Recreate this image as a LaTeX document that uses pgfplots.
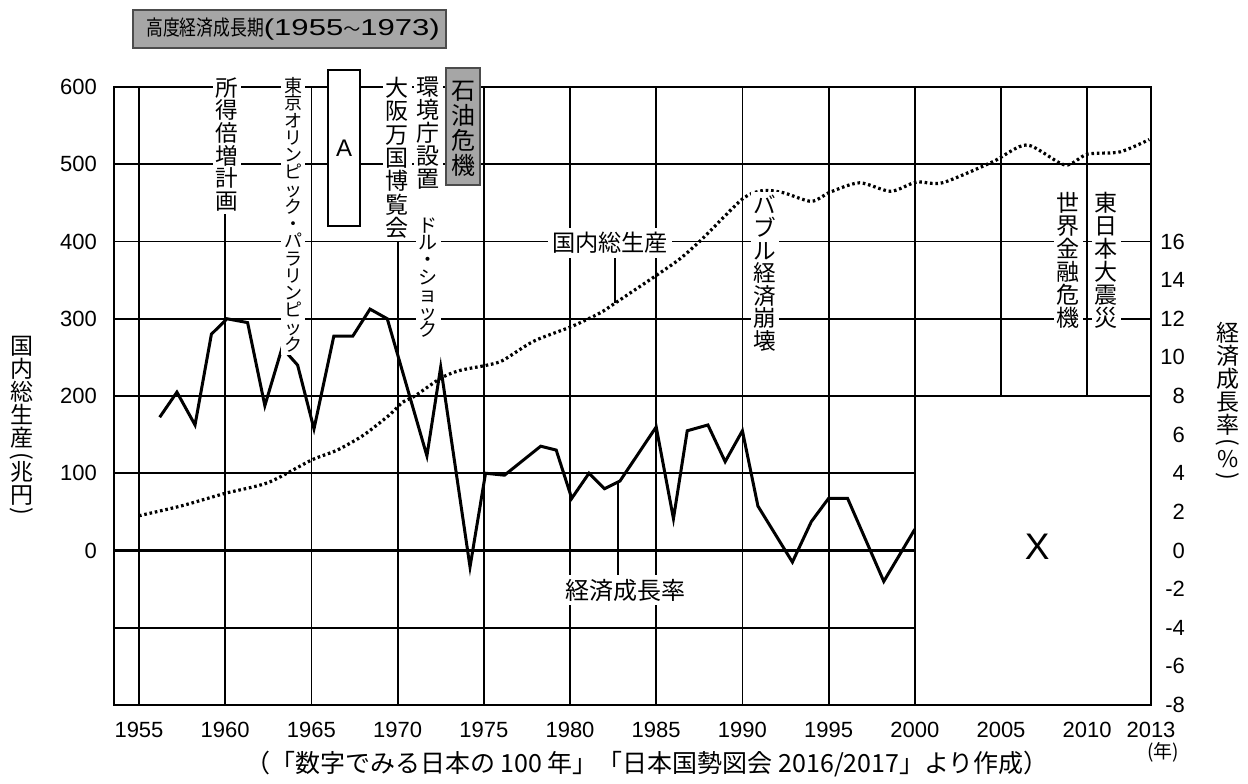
\documentclass[border=0pt]{standalone}
\usepackage{fontspec}
\setmainfont{Liberation Sans}
\newfontfamily\cjk{Noto Sans CJK JP}
\usepackage{graphicx}
\usepackage{pgfplots}
\usepackage{pgfplotstable}
\pgfplotsset{compat=1.18}

\pgfplotstableread{
x y
1955.0 45
1957.5 58
1960.0 74
1962.5 88
1965.0 117
1966.5 130
1968.0 149
1969.5 175
1970.3 192
1971.0 200
1972.5 223
1973.6 233
1975.2 240
1976.1 246
1977.9 271
1980.1 290
1981.7 307
1982.6 320
1985.0 356
1986.4 378
1987.7 404
1990.0 455
1991.2 466
1992.4 463
1994.0 452
1995.1 464
1996.8 476
1998.6 465
2000.1 477
2001.6 476
2004.5 503
2006.5 525
2008.7 499
2010.0 513
2011.9 516
2013.6 532
}\gdptable

\pgfplotstableread{
x y
1956.2 6.9
1957.2 8.2
1958.25 6.5
1959.2 11.2
1960.1 12.0
1961.3 11.8
1962.3 7.5
1963.3 10.5
1964.2 9.6
1965.15 6.3
1966.3 11.1
1967.4 11.1
1968.4 12.5
1969.4 12.0
1971.7 4.9
1972.5 9.5
1974.2 -0.85
1975.1 4.0
1976.2 3.9
1978.3 5.4
1979.2 5.2
1980.1 2.7
1981.1 4.0
1982.0 3.2
1982.9 3.6
1985.0 6.4
1986.0 1.65
1986.8 6.2
1988.0 6.5
1989.0 4.6
1990.0 6.2
1990.9 2.3
1992.9 -0.6
1994.0 1.5
1995.0 2.7
1996.1 2.7
1998.2 -1.6
2000.0 1.1
}\growthtable

\newcommand{\vparL}{\rotatebox[origin=c]{-90}{(}}
\newcommand{\vparR}{\rotatebox[origin=c]{-90}{)}}

\begin{document}
\begin{tikzpicture}
\path[use as bounding box] (0,0) rectangle (624pt,391.5pt);

\begin{axis}[
  at={(57pt,39pt)}, anchor=south west, scale only axis,
  width=518.5pt, height=309pt,
  xmin=1953.55, xmax=2013.7, ymin=-200, ymax=600,
  xtick={1955,1960,1965,1970,1975,1980,1985,1990,1995,2000,2005,2010},
  xticklabels={1955,1960,1965,1970,1975,1980,1985,1990,1995,2000,2005,2010},
  extra x ticks={2013.7}, extra x tick labels={2013},
  extra x tick style={grid=none},
  ytick={-100,0,100,200,300,400,500,600},
  yticklabels={,0,100,200,300,400,500,600},
  grid=major, major grid style={line width=0.9pt, black},
  major tick length=0pt,
  axis line style={line width=1.1pt},
  tick label style={font=\fontsize{11}{13}\selectfont},
  xticklabel style={yshift=-5pt},
  yticklabel style={xshift=-5pt},
]
\addplot[line width=1.6pt, dash pattern=on 1.3pt off 1.4pt, line cap=butt, smooth, tension=0.45] table[x=x,y=y]{\gdptable};
\draw[line width=1.7pt] (axis cs:1953.55,0) -- (axis cs:2013.7,0);
\end{axis}

\begin{axis}[
  at={(57pt,39pt)}, anchor=south west, scale only axis,
  width=518.5pt, height=309pt,
  xmin=1953.55, xmax=2013.7, ymin=-8, ymax=24,
  axis x line=none, axis y line*=right,
  ytick={-8,-6,-4,-2,0,2,4,6,8,10,12,14,16},
  yticklabels={-8,-6,-4,-2,0,2,4,6,8,10,12,14,16},
  major tick length=0pt,
  axis line style={line width=1.1pt},
  tick label style={font=\fontsize{11}{13}\selectfont},
  yticklabel style={anchor=west, text width=13pt, align=right, inner sep=0pt, xshift=3.75pt},
  clip=false,
]
\addplot[line width=1.5pt] table[x=x,y=y]{\growthtable};
\draw[line width=1.3pt, fill=white] (axis cs:2000,-8) rectangle (axis cs:2013.7,8);
\node[font=\fontsize{18.5}{20}\selectfont] at (axis cs:2007.1,0.2) {X};
\end{axis}

\begin{scope}[x=0.5pt,y=-0.5pt,shift={(0pt,391.5pt)}]
% top period box
\draw[fill=black!35, draw=black!70, line width=0.6pt] (133,10) rectangle (446,48);
\node[inner sep=0pt] at (293,29) {\scalebox{0.8}[1]{\cjk\fontsize{10.5}{12}\selectfont 高度経済成長期}\scalebox{1.35}[1]{\fontsize{11.5}{13}\selectfont (1955}{\cjk\fontsize{8.5}{10}\selectfont ～}\scalebox{1.35}[1]{\fontsize{11.5}{13}\selectfont 1973)}};
% event labels
\node[fill=white, inner sep=1.5pt, anchor=north, align=center, font=\cjk\fontsize{11.3}{11.35}\selectfont] at (227,74) {所\\得\\倍\\増\\計\\画};
\node[fill=white, inner sep=1.5pt, anchor=north, align=center, font=\cjk\fontsize{9}{8.63}\selectfont] at (293,74) {東\\京\\オ\\リ\\ン\\ピ\\ッ\\ク\\・\\パ\\ラ\\リ\\ン\\ピ\\ッ\\ク};
\draw[line width=0.8pt, fill=white] (328,70) rectangle (360,226);
\node[font=\fontsize{12}{14}\selectfont] at (344,148) {A};
\node[fill=white, inner sep=1.5pt, anchor=north, align=center, font=\cjk\fontsize{11.5}{11.65}\selectfont] at (397,74) {大\\阪\\万\\国\\博\\覧\\会};
\node[fill=white, inner sep=1.5pt, anchor=north, align=center, font=\cjk\fontsize{11.5}{11.5}\selectfont] at (428,74) {環\\境\\庁\\設\\置};
\draw[fill=black!35, draw=black!70, line width=0.6pt] (446,68) rectangle (480,185);
\node[anchor=north, align=center, font=\cjk\fontsize{12}{12.5}\selectfont] at (463,74) {石\\油\\危\\機};
\node[fill=white, inner sep=1.5pt, anchor=north, align=center, font=\cjk\fontsize{9.5}{8.7}\selectfont] at (428,214) {ド\\ル\\・\\シ\\ョ\\ッ\\ク};
\draw[line width=0.8pt] (615,256) -- (615,303);
\node[fill=white, inner sep=2pt, font=\cjk\fontsize{11.6}{12}\selectfont] at (610,243) {国内総生産};
\node[fill=white, inner sep=1.5pt, anchor=north, align=center, font=\cjk\fontsize{11.3}{11.3}\selectfont] at (765,192) {バ\\ブ\\ル\\経\\済\\崩\\壊};
\draw[line width=0.8pt] (618,482) -- (618,576);
\node[fill=white, inner sep=2pt, font=\cjk\fontsize{12}{13}\selectfont] at (625,590) {経済成長率};
\node[fill=white, inner sep=1.5pt, anchor=north, align=center, font=\cjk\fontsize{11.5}{11.5}\selectfont] at (1068,189) {世\\界\\金\\融\\危\\機};
\node[fill=white, inner sep=1.5pt, anchor=north, align=center, font=\cjk\fontsize{11.5}{11.5}\selectfont] at (1106,189) {東\\日\\本\\大\\震\\災};
% axis titles
\node[anchor=north, align=center, font=\cjk\fontsize{11.5}{11.5}\selectfont] at (22,329) {国\\内\\総\\生\\産\\[-3pt]\vparL\\[-3pt]兆\\円\\[-4pt]\vparR};
\node[anchor=north, align=center, font=\cjk\fontsize{11.5}{11.5}\selectfont] at (1228,315) {経\\済\\成\\長\\率\\[-3.5pt]\vparL\\[-2.5pt]\%\\[-3.5pt]\vparR};
\node[font=\cjk\fontsize{9.5}{11}\selectfont] at (1163,752) {(年)};
\node[font=\cjk\fontsize{12.5}{14}\selectfont] at (647,764) {（「数字でみる日本の 100 年」「日本国勢図会 2016/2017」より作成）};
\end{scope}
\end{tikzpicture}
\end{document}
